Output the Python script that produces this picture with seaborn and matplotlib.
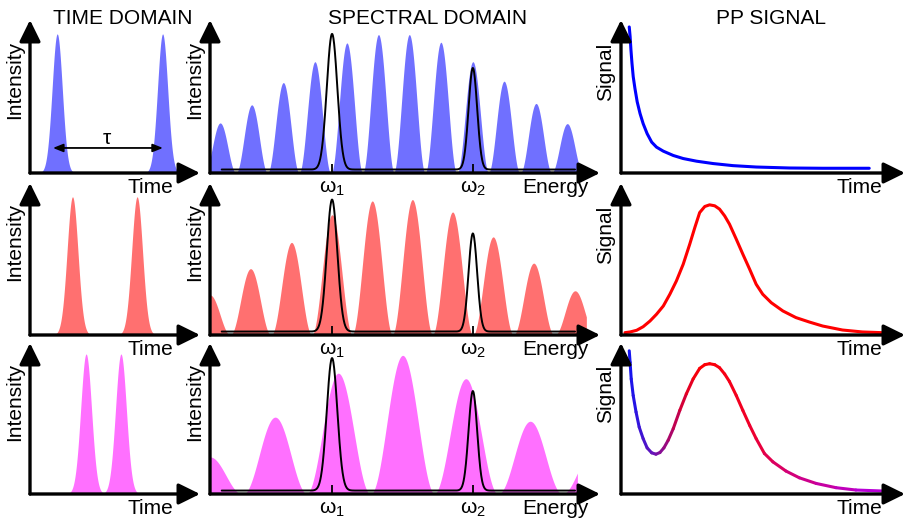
import numpy as np
import matplotlib
matplotlib.use("Agg")
import matplotlib.pyplot as plt
from matplotlib.collections import LineCollection
from matplotlib.colors import LinearSegmentedColormap
import seaborn as sns

sns.set_theme(style="white")
plt.rcParams["font.family"] = ["Liberation Sans", "DejaVu Sans"]
plt.rcParams["mathtext.fontset"] = "custom"
plt.rcParams["mathtext.rm"] = "Liberation Sans"
plt.rcParams["mathtext.it"] = "Liberation Sans"
plt.rcParams["mathtext.bf"] = "Liberation Sans"
plt.rcParams["text.color"] = "black"

# ---------------- data ----------------
row_colors = ["#7070ff", "#ff7070", "#ff70ff"]

# time domain: pulse pair per row (centre, height, width)
pulse_centers = [[1.6, 7.8], [2.5, 6.3], [3.3, 5.35]]
pulse_heights = [[1.0, 1.0], [1.0, 1.0], [1.02, 1.02]]
pulse_widths = [[0.30, 0.30], [0.32, 0.32], [0.32, 0.32]]
tau_span = [1.35, 7.82]

# spectral domain: interference fringes (centre, peak height) per row
fringe_centers = [
    [0.26, 1.07, 1.88, 2.69, 3.51, 4.32, 5.11, 5.92, 6.74, 7.54, 8.36, 9.16],
    [0.00, 1.04, 2.09, 3.13, 4.16, 5.19, 6.22, 7.26, 8.30, 9.36],
    [0.00, 1.67, 3.29, 4.94, 6.56, 8.21, 9.85],
]
fringe_heights = [
    [0.36, 0.49, 0.65, 0.80, 0.935, 0.995, 0.995, 0.94, 0.80, 0.66, 0.50, 0.355],
    [0.29, 0.48, 0.67, 0.87, 0.97, 0.98, 0.89, 0.71, 0.52, 0.32],
    [0.27, 0.56, 0.88, 1.01, 0.84, 0.53, 0.33],
]
spectrum_end = [9.5, 9.65, 9.42]

# narrow probe lines at omega_1 and omega_2
omega_pos = [3.13, 6.74]
omega_labels = [r"$\omega_1$", r"$\omega_2$"]
probe_heights = [[1.0, 0.755], [0.98, 0.735], [0.99, 0.75]]
probe_widths = [0.135, 0.11]
probe_base = 0.025
probe_span = [0.3, 9.36]

# pump-probe signal traces
pp_t = [
    [0.29, 0.32, 0.35, 0.386, 0.43, 0.49, 0.57, 0.67, 0.78, 0.92, 1.08, 1.25, 1.49,
     1.84, 2.19, 2.66, 3.24, 3.94, 4.76, 5.93, 7.10, 8.74],
    [0.14, 0.32, 0.55, 0.78, 1.02, 1.25, 1.49, 1.72, 1.95, 2.19, 2.42, 2.60, 2.77,
     2.95, 3.12, 3.30, 3.47, 3.65, 3.82, 4.06, 4.29, 4.53, 4.76, 4.99, 5.29, 5.70,
     6.16, 6.63, 7.10, 7.80, 8.50, 9.18],
    [0.29, 0.32, 0.36, 0.43, 0.53, 0.64, 0.78, 0.92, 1.08, 1.23, 1.37, 1.51, 1.66,
     1.84, 2.07, 2.30, 2.54, 2.77, 2.95, 3.12, 3.30, 3.47, 3.65, 3.82, 4.06, 4.29,
     4.53, 4.76, 5.05, 5.35, 5.81, 6.28, 6.87, 7.57, 8.27, 9.18],
]
pp_s = [
    [1.05, 0.983, 0.886, 0.79, 0.693, 0.609, 0.512, 0.428, 0.355, 0.283, 0.222, 0.186,
     0.157, 0.126, 0.104, 0.085, 0.068, 0.053, 0.043, 0.036, 0.034, 0.034],
    [0.017, 0.022, 0.034, 0.060, 0.101, 0.150, 0.210, 0.295, 0.391, 0.512, 0.657, 0.778,
     0.886, 0.930, 0.942, 0.935, 0.911, 0.862, 0.802, 0.693, 0.585, 0.476, 0.367, 0.295,
     0.234, 0.174, 0.126, 0.094, 0.065, 0.036, 0.022, 0.017],
    [1.043, 0.959, 0.838, 0.717, 0.597, 0.488, 0.403, 0.336, 0.300, 0.290, 0.302, 0.336,
     0.391, 0.476, 0.609, 0.729, 0.838, 0.915, 0.942, 0.949, 0.942, 0.920, 0.874, 0.819,
     0.717, 0.609, 0.500, 0.403, 0.295, 0.234, 0.167, 0.118, 0.077, 0.046, 0.029, 0.022],
]
pp_colors = ["#0000ff", "#ff0000", None]
mixed_stops = [0.29, 1.2, 2.0, 2.8, 4.5, 6.0, 9.18]
mixed_colors = ["#1414f0", "#6e14b4", "#c80046", "#ff0000", "#f00028", "#d20078", "#b400e6"]

titles = ["TIME DOMAIN", "SPECTRAL DOMAIN", "PP SIGNAL"]
title_x = [123, 428, 771]
x_names = ["Time", "Energy", "Time"]
y_names = ["Intensity", "Intensity", "Signal"]

# ---------------- layout (pixels) ----------------
W, H = 906, 522
col_left = [30, 210, 621]
col_right = [200, 600, 905]
row_axis = [173, 335, 494]
row_top = [20, 183, 343]
name_x = [0.84, 0.97, 0.92]
ylab_y = [0.61, 0.61, 0.66]
FS = 15

fig = plt.figure(figsize=(W / 100, H / 100), dpi=100)


def make_axes(r, c):
    l, rr = col_left[c], col_right[c]
    b, t = row_axis[r], row_top[r]
    ax = fig.add_axes([l / W, 1 - b / H, (rr - l) / W, (b - t) / H])
    ax.set_xlim(0, 10)
    ax.set_ylim(0, 1.1)
    ax.axis("off")
    arrow = dict(arrowstyle="-|>,head_length=0.65,head_width=0.32", lw=2.4,
                 color="black", shrinkA=0, shrinkB=0, mutation_scale=20)
    ax.annotate("", xy=(1, 0), xytext=(0, 0), xycoords="axes fraction",
                arrowprops=arrow, zorder=10)
    ax.annotate("", xy=(0, 1), xytext=(0, 0), xycoords="axes fraction",
                arrowprops=arrow, zorder=10)
    ax.annotate(x_names[c], xy=(name_x[c], 0), xycoords="axes fraction",
                xytext=(0, -14.5), textcoords="offset points",
                ha="right", va="baseline", fontsize=FS)
    ax.annotate(y_names[c], xy=(0, ylab_y[c]), xycoords="axes fraction",
                xytext=(-11, 0), textcoords="offset points",
                ha="center", va="center", rotation=90, fontsize=FS)
    return ax


def gauss(x, c, h, w):
    return h * np.exp(-0.5 * ((x - c) / w) ** 2)


for r in range(3):
    # time domain pulses
    ax = make_axes(r, 0)
    t = np.linspace(0, 10, 1200)
    for c, h, w in zip(pulse_centers[r], pulse_heights[r], pulse_widths[r]):
        seg = np.abs(t - c) < 3.2 * w
        ax.fill_between(t[seg], 0, gauss(t[seg], c, h, w),
                        color=row_colors[r], lw=0, zorder=2)
    if r == 0:
        ax.annotate("", xy=(tau_span[1], 0.18), xytext=(tau_span[0], 0.18),
                    arrowprops=dict(arrowstyle="<|-|>,head_length=0.5,head_width=0.2",
                                    lw=1.3, color="black", shrinkA=0, shrinkB=0,
                                    mutation_scale=12), zorder=5)
        ax.text(np.mean(tau_span) - 0.05, 0.21, "τ", ha="center", va="baseline",
                fontsize=FS)

    # spectral fringes with probe lines
    ax = make_axes(r, 1)
    e = np.linspace(0, spectrum_end[r], 2000)
    cen = np.array(fringe_centers[r])
    per = np.mean(np.diff(cen))
    spec = np.zeros_like(e)
    for c, h in zip(cen, fringe_heights[r]):
        inside = np.abs(e - c) <= per / 2
        spec[inside] = h * np.cos(np.pi * (e[inside] - c) / per) ** 2
    ax.fill_between(e, 0, spec, color=row_colors[r], lw=0, zorder=2)

    ep = np.linspace(probe_span[0], probe_span[1], 1500)
    probe = probe_base + sum(gauss(ep, c, h - probe_base, w)
                             for c, h, w in zip(omega_pos, probe_heights[r], probe_widths))
    sns.lineplot(x=ep, y=probe, ax=ax, color="black", lw=1.4, sort=False, zorder=4)
    for c, lab in zip(omega_pos, omega_labels):
        ax.plot([c, c], [0, 0.065], color="black", lw=1.3, zorder=11,
                solid_capstyle="butt")
        ax.annotate(lab, xy=(c, 0), xycoords="data", xytext=(0, -14.5),
                    textcoords="offset points", ha="center", va="baseline",
                    fontsize=FS)

    # pump-probe signal
    ax = make_axes(r, 2)
    ts, ss = np.array(pp_t[r]), np.array(pp_s[r])
    if pp_colors[r] is not None:
        sns.lineplot(x=ts, y=ss, ax=ax, color=pp_colors[r], lw=2.2, sort=False,
                     zorder=4, solid_joinstyle="round", solid_capstyle="round")
    else:
        stops = (np.array(mixed_stops) - mixed_stops[0]) / (mixed_stops[-1] - mixed_stops[0])
        cmap = LinearSegmentedColormap.from_list("pp", list(zip(stops, mixed_colors)))
        pts = np.column_stack([ts, ss])
        segs = np.stack([pts[:-1], pts[1:]], axis=1)
        mids = (ts[:-1] + ts[1:]) / 2
        lc = LineCollection(segs, colors=cmap((mids - ts[0]) / (ts[-1] - ts[0])),
                            lw=2.2, capstyle="round", joinstyle="round", zorder=4)
        ax.add_collection(lc)

for txt, x in zip(titles, title_x):
    fig.text(x / W, 1 - 24 / H, txt, ha="center", va="baseline", fontsize=FS)

fig.savefig("out.png", dpi=100)
